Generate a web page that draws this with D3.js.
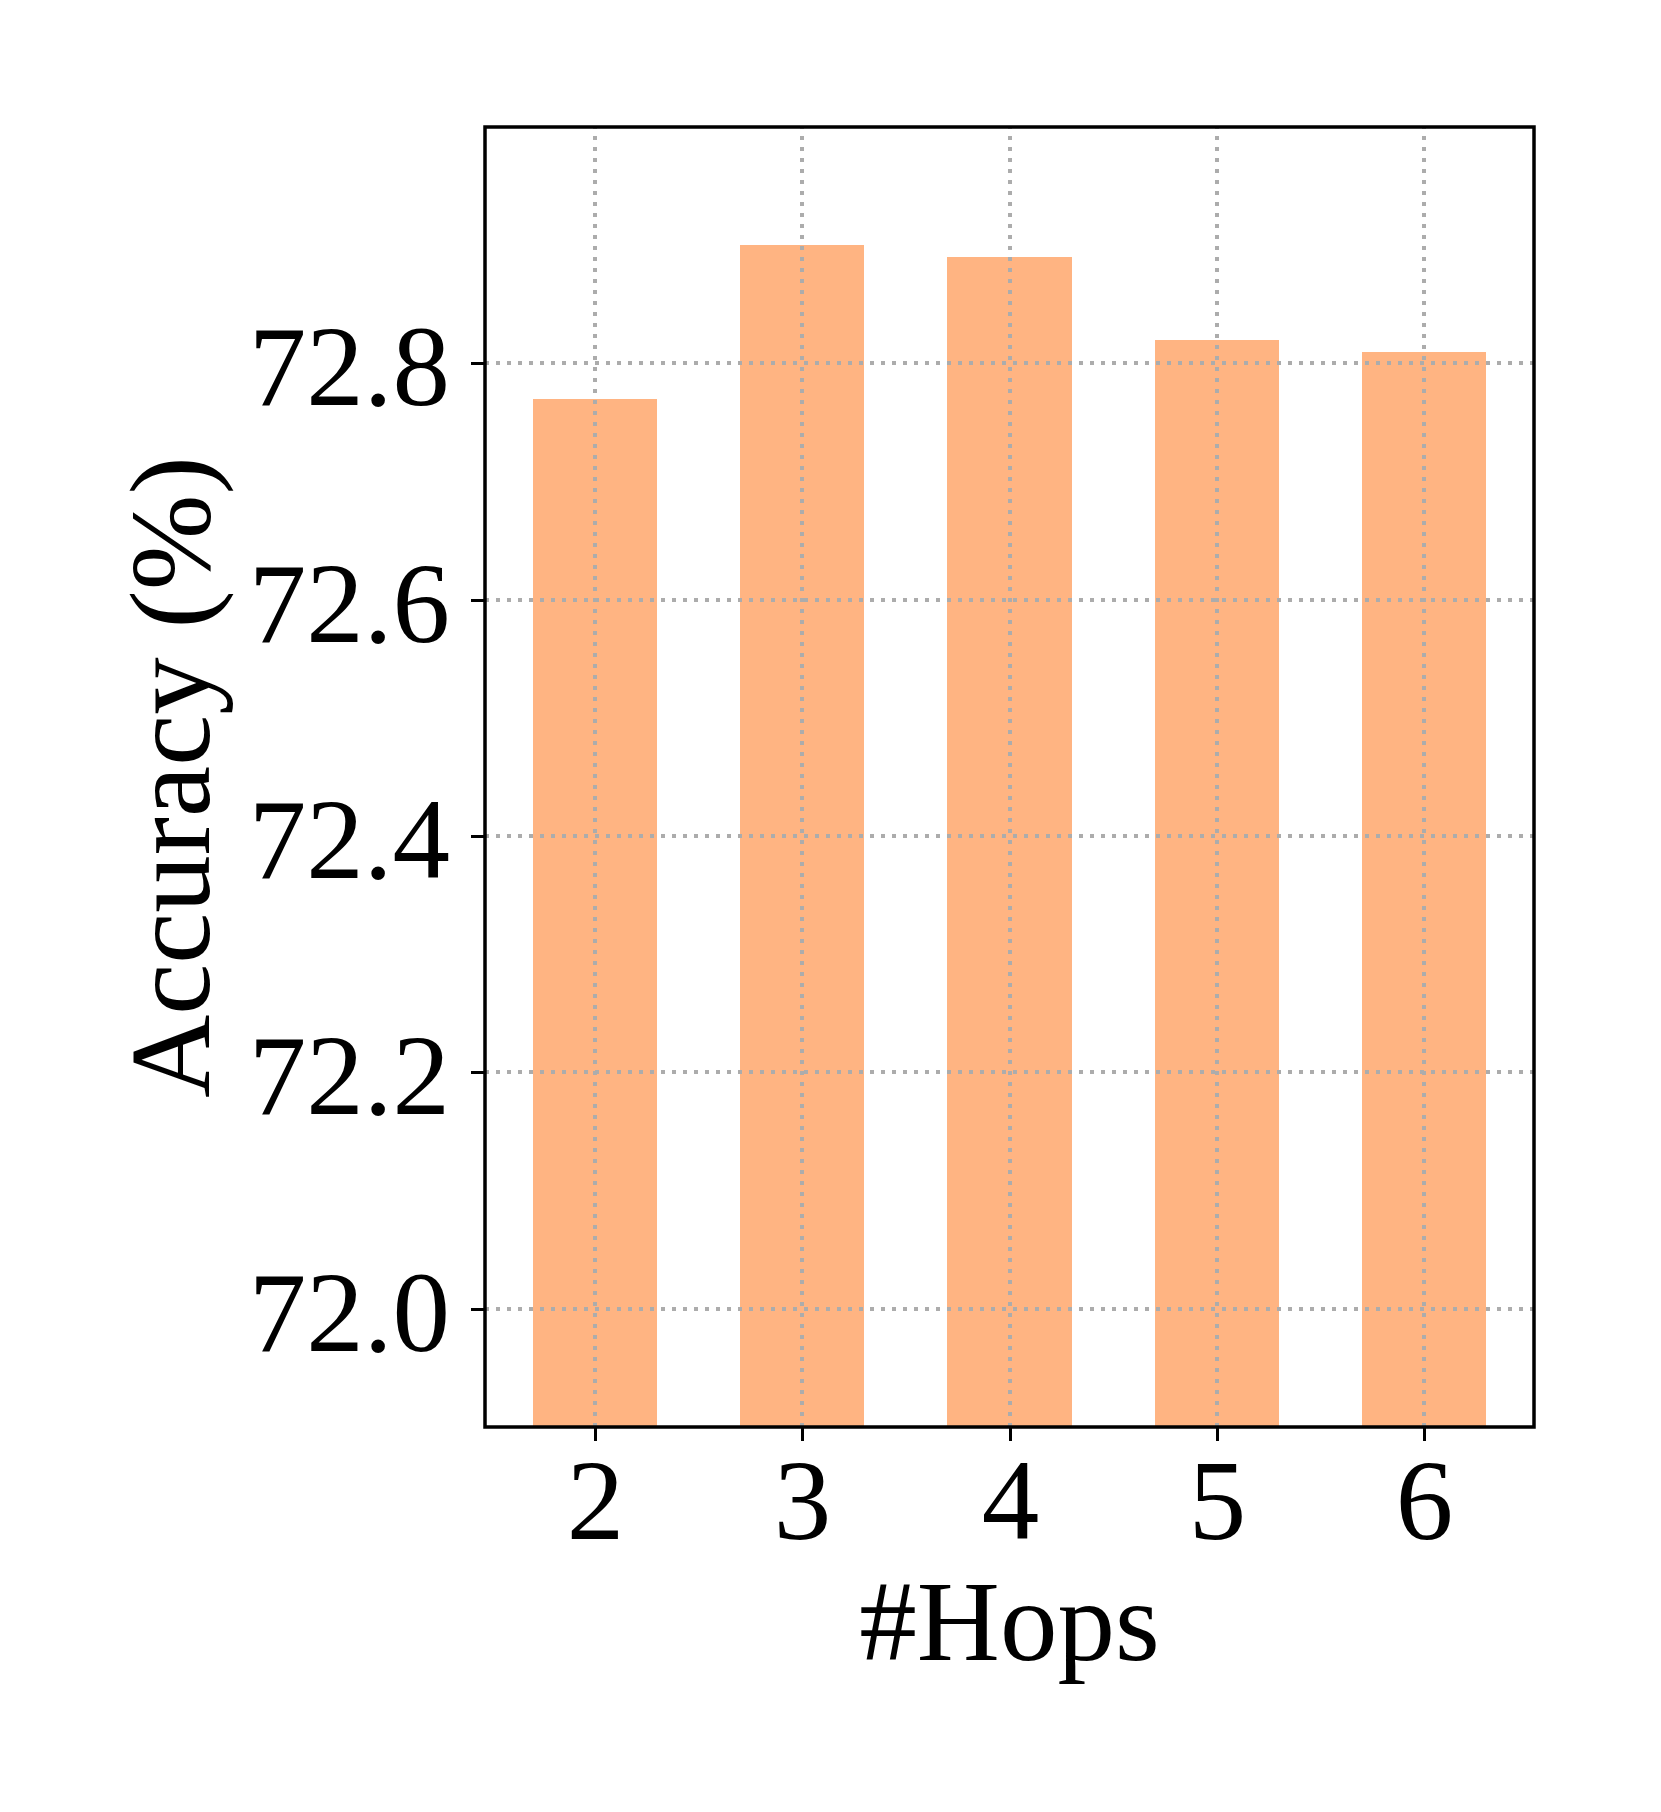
<!DOCTYPE html>
<html>
<head>
<meta charset="utf-8">
<script src="https://d3js.org/d3.v7.min.js"></script>
<style>
  body { margin: 0; background: #fff; }
  text { font-family: "Liberation Serif", "Times New Roman", serif; fill: #000; }
</style>
</head>
<body>
<div id="my_dataviz"></div>
<script>
// data
var hops = [2, 3, 4, 5, 6];
var accuracy = [72.77, 72.90, 72.89, 72.82, 72.81];
var yTicks = [72.0, 72.2, 72.4, 72.6, 72.8];

// set the dimensions and margins of the graph
var margin = {top: 127, right: 127, bottom: 385, left: 485},
    width = 1661 - margin.left - margin.right,
    height = 1812 - margin.top - margin.bottom;

var svg = d3.select("#my_dataviz")
  .append("svg")
    .attr("width", 1661)
    .attr("height", 1812)
  .append("g")
    .attr("transform", "translate(" + margin.left + "," + margin.top + ")");

// x is numeric like matplotlib bar positions, width 0.6 with 5% margins
var barWidth = 0.6;
var x = d3.scaleLinear()
  .domain([1.47, 6.53])
  .rangeRound([0, width]);

var y = d3.scaleLinear()
  .domain([71.9, 73.0])
  .rangeRound([height, 0]);

// bars
svg.selectAll("rect.bar")
  .data(hops)
  .enter()
  .append("rect")
    .attr("class", "bar")
    .attr("x", function(d) { return x(d - barWidth / 2); })
    .attr("width", function(d) { return x(d + barWidth / 2) - x(d - barWidth / 2); })
    .attr("y", function(d, i) { return y(accuracy[i]); })
    .attr("height", function(d, i) { return height - y(accuracy[i]); })
    .style("fill", "#FFB482");

// dotted grid on top of the bars
var gridY = svg.append("g")
  .call(d3.axisLeft(y).offset(0).tickValues(yTicks).tickSize(-width).tickFormat(""));
var gridX = svg.append("g")
  .attr("transform", "translate(0," + height + ")")
  .call(d3.axisBottom(x).offset(0).tickValues(hops).tickSize(height).tickFormat(""));
[gridY, gridX].forEach(function(g) {
  g.select(".domain").remove();
  g.selectAll("line")
    .attr("stroke", "#acacac")
    .attr("stroke-width", 4)
    .attr("stroke-dasharray", "4,7");
});
gridX.selectAll("line").attr("y2", -height);

// Add X axis
var xAxis = svg.append("g")
  .attr("transform", "translate(0," + height + ")")
  .call(d3.axisBottom(x).tickValues(hops).tickSizeOuter(0).tickSizeInner(14).tickPadding(16)
    .tickFormat(d3.format("d")));

// Add Y axis
var yAxis = svg.append("g")
  .call(d3.axisLeft(y).tickValues(yTicks).tickSizeOuter(0).tickSizeInner(14).tickPadding(21)
    .tickFormat(d3.format(".1f")));

[xAxis, yAxis].forEach(function(g) {
  g.select(".domain").remove();
  g.selectAll("line").attr("stroke", "#000").attr("stroke-width", 3);
  g.selectAll("text")
    .style("font-family", '"Liberation Serif", "Times New Roman", serif')
    .style("font-size", "115px")
    .attr("fill", "#000");
});
xAxis.selectAll("text").attr("dy", "0.71em");
yAxis.selectAll("text").attr("dy", "0.36em");

// frame
svg.append("rect")
  .attr("x", 0)
  .attr("y", 0)
  .attr("width", width)
  .attr("height", height)
  .attr("fill", "none")
  .attr("stroke", "#000")
  .attr("stroke-width", 3.5);

// axis labels
svg.append("text")
  .attr("x", width / 2)
  .attr("y", 1660 - margin.top)
  .attr("text-anchor", "middle")
  .style("font-size", "115px")
  .text("#Hops");

svg.append("text")
  .attr("transform", "translate(" + (209 - margin.left) + "," + (height / 2) + ") rotate(-90)")
  .attr("text-anchor", "middle")
  .style("font-size", "115px")
  .text("Accuracy (%)");
</script>
</body>
</html>
